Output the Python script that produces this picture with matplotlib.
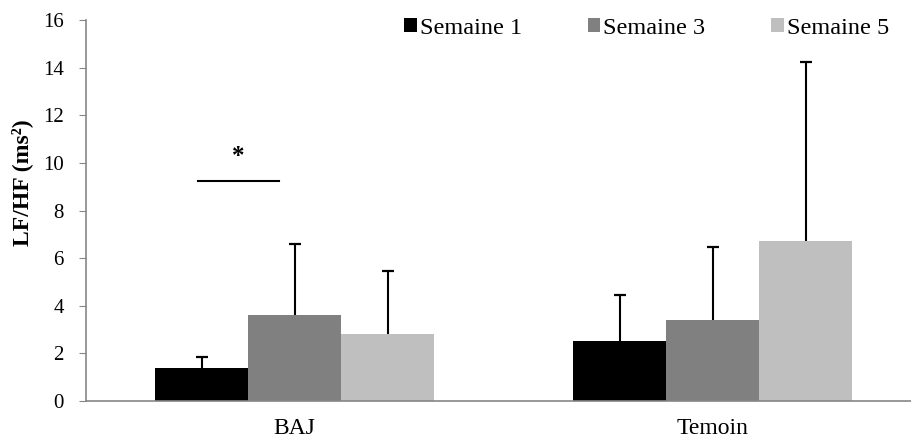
import numpy as np
import matplotlib.pyplot as plt

# data
groups = ["BAJ", "Temoin"]
series = ["Semaine 1", "Semaine 3", "Semaine 5"]
colors = ["#000000", "#808080", "#bfbfbf"]
means = [[1.4, 2.5],
         [3.6, 3.4],
         [2.8, 6.7]]
errs = [[0.46, 1.97],
        [3.0, 3.06],
        [2.67, 7.55]]

plt.rcParams['font.family'] = ['Liberation Serif', 'DejaVu Serif']

fig = plt.figure(figsize=(9.12, 4.41), dpi=100)
ax = fig.add_axes([86/912, 1 - 401/441, 1 - 86/912, 381/441])

x = np.arange(len(groups))
w = 0.2225
for i in range(len(series)):
    xs = x + (i - 1) * w
    ax.bar(xs, means[i], w, color=colors[i], label=series[i], zorder=2)
    # upper error bar only
    tops = np.array(means[i]) + np.array(errs[i])
    ax.vlines(xs, means[i], tops, color='black', lw=1.5, zorder=3)
    ax.plot(xs, tops, ls='none', marker='_', ms=8, mew=1.6, color='black', zorder=3)

# significance marker
ax.plot([-0.232, -0.037], [9.25, 9.25], color='black', lw=1.5)
ax.text(-0.135, 10.25, "*", ha='center', va='center', fontsize=18, fontweight='bold')

ax.set_xlim(-0.499, 1.477)
ax.set_ylim(0, 16)
ax.set_yticks(range(0, 17, 2))
ax.set_xticks(x)
ax.set_xticklabels(groups)
ax.tick_params(axis='x', length=0, labelsize=17, pad=12)
ax.tick_params(axis='y', length=5, color='#868686', labelsize=15, pad=11)
for s in ['top', 'right']:
    ax.spines[s].set_visible(False)
for s in ['left', 'bottom']:
    ax.spines[s].set_color('#868686')
    ax.spines[s].set_linewidth(1.2)
fig.text(22/912, 1 - 183/441, "LF/HF (ms²)", rotation=90, ha='center', va='center',
         fontsize=17, fontweight='bold')

ax.legend(loc='center left', bbox_to_anchor=(404/912, 1 - 28/441),
          bbox_transform=fig.transFigure, ncol=3, frameon=False,
          fontsize=17.5, handlelength=0.53, handleheight=0.53,
          handletextpad=0.12, columnspacing=2.7, borderpad=0, borderaxespad=0)

fig.savefig("out.png", dpi=100)
